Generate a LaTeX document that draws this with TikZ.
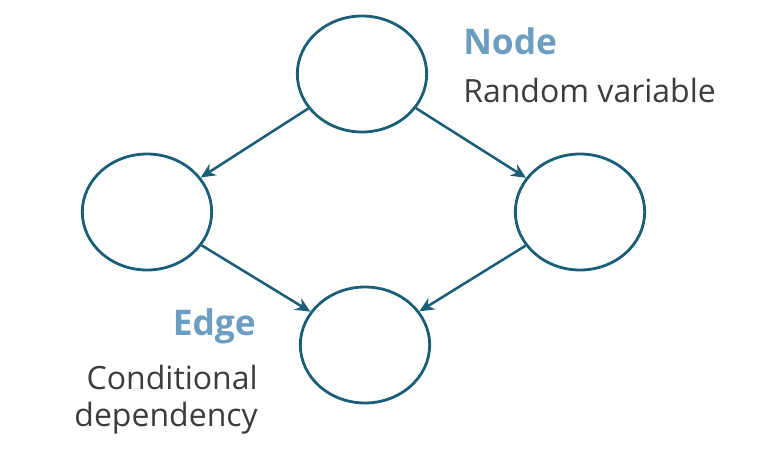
\documentclass[tikz,border=0pt]{standalone}
\usepackage{fontspec}
\setmainfont{Open Sans}
\usetikzlibrary{positioning, shapes.geometric, arrows.meta}
\definecolor{linkteal}{HTML}{1B5E78}
\definecolor{headblue}{HTML}{6B9EC0}
\definecolor{notegray}{HTML}{3C3C3C}
\begin{document}
\begin{tikzpicture} [x=0.75pt, y=0.75pt,
  ball/.style={ellipse, minimum width=97pt, minimum height=87pt, inner sep=0pt, draw=linkteal, line width=2.1pt},
  link/.style={-{Stealth[length=11pt, width=10pt]}, draw=linkteal, line width=1.9pt},
  head/.style={text=headblue, font=\fontsize{26.5}{30}\selectfont\bfseries, inner sep=0pt},
  note/.style={text=notegray, font=\fontsize{24}{28}\selectfont, inner sep=0pt}]
  \useasboundingbox (0,0) rectangle (761,462);
  \draw (362,388) node[ball](top) {};
  \draw (147,250) node[ball](lft) {};
  \draw (580,250) node[ball](rgt) {};
  \draw (365,117) node[ball](bot) {};

  \draw (463,407) node[head, anchor=base west](nodehd) {Node};
  \draw (463,360) node[note, anchor=base west](nodetx) {Random variable};
  \draw (256,127) node[head, anchor=base east](edgehd) {Edge};
  \draw (258,73) node[note, anchor=base east](edgetx1) {Conditional};
  \draw (258,36) node[note, anchor=base east](edgetx2) {dependency};

\path (top) edge[link] (lft)
            edge[link] (rgt)
      (lft) edge[link] (bot)
      (rgt) edge[link] (bot);
\end{tikzpicture}
\end{document}
